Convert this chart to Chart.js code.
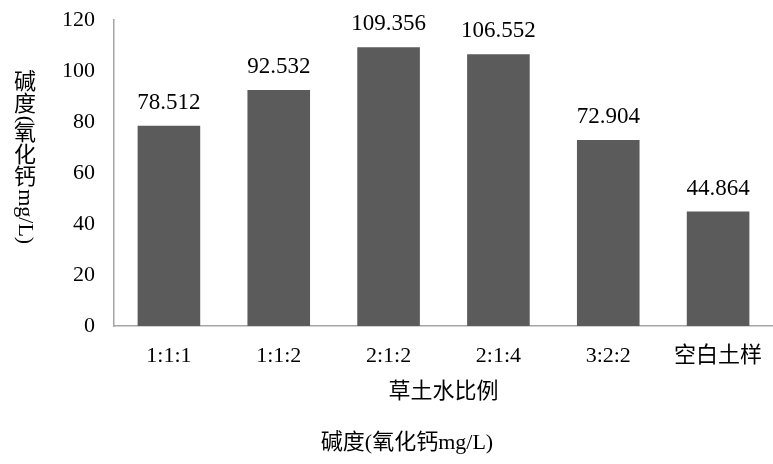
<!DOCTYPE html>
<html>
<head>
<meta charset="utf-8">
<script src="https://cdn.jsdelivr.net/npm/chart.js@4/dist/chart.umd.min.js"></script>
<style>
  html, body { margin: 0; padding: 0; background: #fff; }
  #wrap { width: 773px; height: 464px; }
</style>
</head>
<body>
<div id="wrap"><canvas id="chart"></canvas></div>
<script>
const categories = ["1:1:1", "1:1:2", "2:1:2", "2:1:4", "3:2:2", "空白土样"]
const alkalinity = [78.512, 92.532, 109.356, 106.552, 72.904, 44.864]
const yTicks = [0, 20, 40, 60, 80, 100, 120]
const yTitle = "碱度(氧化钙mg/L)"
const xTitle = "草土水比例"
const bottomTitle = "碱度(氧化钙mg/L)"

const FONT = "'Liberation Serif', 'Times New Roman', 'Noto Sans CJK SC', serif"
const isCJK = ch => /[\u3000-\u9fff\uff00-\uffef]/.test(ch)

// value labels above bars, vertical y title, bottom caption
const extras = {
    id: "extras",
    afterDatasetsDraw(chart) {
        const ctx = chart.ctx
        ctx.save()
        ctx.fillStyle = "#000"
        ctx.font = "23px " + FONT
        ctx.textAlign = "center"
        ctx.textBaseline = "middle"
        chart.getDatasetMeta(0).data.forEach((bar, i) => {
            ctx.fillText(alkalinity[i].toFixed(3), bar.x, bar.y - 23)
        })
        ctx.restore()
    },
    afterDraw(chart) {
        const ctx = chart.ctx
        ctx.save()
        ctx.fillStyle = "#000"
        ctx.font = "22px " + FONT
        // vertical title: CJK upright, latin rotated
        const chars = [...yTitle]
        const sizes = chars.map(c => isCJK(c) ? 22 : ctx.measureText(c).width)
        const total = sizes.reduce((a, b) => a + b, 0)
        const cx = 25
        let y = 158 - total / 2
        chars.forEach((c, i) => {
            if (isCJK(c)) {
                ctx.textAlign = "center"
                ctx.textBaseline = "middle"
                ctx.fillText(c, cx, y + sizes[i] / 2)
            } else {
                ctx.save()
                ctx.translate(cx, y)
                ctx.rotate(Math.PI / 2)
                ctx.textAlign = "left"
                ctx.textBaseline = "middle"
                ctx.fillText(c, 0, 0)
                ctx.restore()
            }
            y += sizes[i]
        })
        ctx.textAlign = "center"
        ctx.textBaseline = "middle"
        ctx.fillText(bottomTitle, 407, 443)
        ctx.restore()
    }
}

new Chart(document.getElementById("chart"), {
    type: "bar",
    data: {
        labels: categories,
        datasets: [{
            label: bottomTitle,
            data: alkalinity,
            backgroundColor: "#5b5b5b",
            borderWidth: 0,
            barPercentage: 0.57,
            categoryPercentage: 1.0
        }]
    },
    options: {
        responsive: true,
        maintainAspectRatio: false,
        animation: false,
        devicePixelRatio: 1,
        layout: { padding: { top: 0, left: 0, right: 0, bottom: 44 } },
        plugins: {
            legend: { display: false },
            tooltip: { enabled: false }
        },
        scales: {
            x: {
                grid: { display: false, drawTicks: false },
                border: { display: true, color: "#a6a6a6", width: 1.5 },
                ticks: { color: "#000", font: { family: FONT, size: 22 }, padding: 17, maxRotation: 0 },
                title: { display: true, text: xTitle, color: "#000", font: { family: FONT, size: 22 }, padding: { top: 0, bottom: 15 } },
                afterFit(scale) {
                    scale.height = 94
                    scale.paddingLeft = 0
                    scale.paddingRight = 0
                }
            },
            y: {
                min: 0,
                max: 120,
                afterBuildTicks(scale) { scale.ticks = yTicks.map(v => ({ value: v })) },
                grid: { display: false, drawTicks: false },
                border: { display: true, color: "#a6a6a6", width: 1.5 },
                ticks: { color: "#000", font: { family: FONT, size: 22 }, padding: 19 },
                afterFit(scale) {
                    scale.width = 114
                    scale.paddingTop = 20
                    scale.paddingBottom = 0
                }
            }
        }
    },
    plugins: [extras]
})
</script>
</body>
</html>
